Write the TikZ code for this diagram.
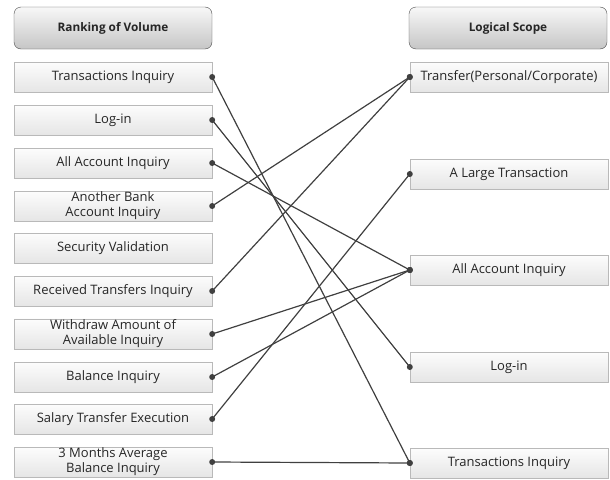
\documentclass[tikz,border=0pt]{standalone}
\usepackage{fontspec}
\setmainfont{Open Sans}
\usetikzlibrary{shadows}
\begin{document}
\begin{tikzpicture}[x=1pt, y=-1pt,
	item/.style={draw=gray!55, top color=gray!2, bottom color=gray!20, minimum width=198pt, minimum height=30pt, inner sep=1pt, align=center, text=black!85, font=\fontsize{13}{15}\selectfont, drop shadow={shadow xshift=1.2pt, shadow yshift=-1.2pt, opacity=0.35}},
	head/.style={draw=black!70, rounded corners=7pt, top color=gray!6, bottom color=gray!45, minimum width=198pt, minimum height=42pt, font=\bfseries\fontsize{11.8}{14}\selectfont, text=black!85},
	link/.style={draw=black!75, line width=1.2pt},
	dot/.style={circle, fill=black!75, inner sep=0pt, minimum size=6pt}]
	\useasboundingbox (0,0) rectangle (610,479);
	\node[head] (lhead) at (113,28) {Ranking of Volume};
	\node[head] (rhead) at (508,28) {Logical Scope};
	\foreach \i/\y/\txt in {1/77/{Transactions Inquiry}, 2/120/{Log-in}, 3/163/{All Account Inquiry}, 4/206/{Another Bank\\Account Inquiry}, 5/248/{Security Validation}, 6/291/{Received Transfers Inquiry}, 7/334/{Withdraw Amount of\\Available Inquiry}, 8/377/{Balance Inquiry}, 9/419/{Salary Transfer Execution}, 10/462/{3 Months Average\\Balance Inquiry}}{
		\node[item] (l\i) at (113,\y) {\txt};
	}
	\foreach \i/\y/\txt in {1/77/{Transfer(Personal/Corporate)}, 2/174/{A Large Transaction}, 3/270/{All Account Inquiry}, 4/367/{Log-in}, 5/463/{Transactions Inquiry}}{
		\node[item] (r\i) at (509,\y) {\txt};
	}
	\foreach \a/\b in {1/5, 2/4, 3/3, 4/1, 6/1, 7/3, 8/3, 9/2, 10/5}{
		\draw[link] (l\a.east) -- (r\b.west);
		\node[dot] at (l\a.east) {};
		\node[dot] at (r\b.west) {};
	}
\end{tikzpicture}
\end{document}
